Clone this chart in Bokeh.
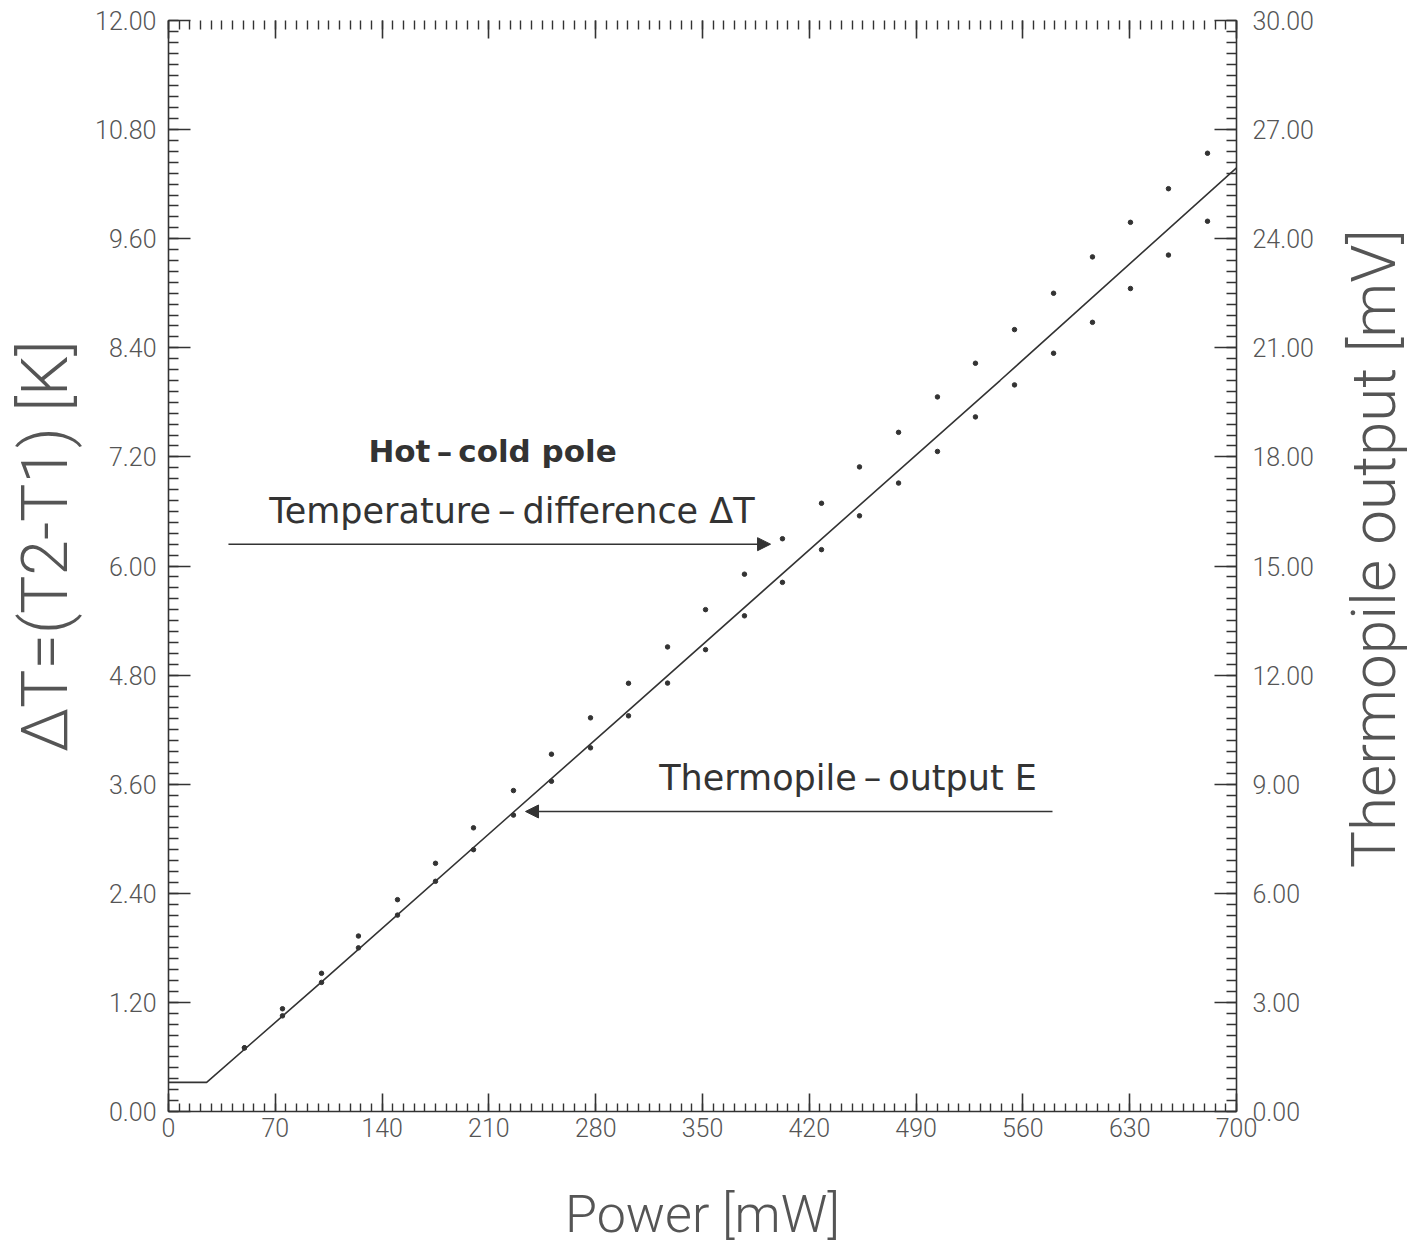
import math
from bokeh.plotting import figure
from bokeh.layouts import gridplot
from bokeh.core.properties import value
from bokeh.models import (Range1d, LinearAxis, SingleIntervalTicker, PrintfTickFormatter,
                          CustomJSTickFormatter, Label, Arrow, NormalHead)
from bokeh.embed import file_html
from bokeh.resources import INLINE

# ---- data ----
# Temperature difference dT [K] (upper dots, left axis)
power_dt = [49.8, 74.7, 100.3, 124.5, 150.1, 175.0, 199.9, 226.1, 251.0, 276.6, 301.5, 327.1,
            352.0, 377.5, 402.4, 428.0, 452.9, 478.5, 504.0, 528.9, 554.5, 580.1, 605.6, 630.5,
            655.4, 681.0]
delta_t = [0.70, 1.13, 1.52, 1.93, 2.33, 2.73, 3.12, 3.53, 3.93, 4.33, 4.71, 5.11,
           5.52, 5.91, 6.30, 6.69, 7.09, 7.47, 7.86, 8.23, 8.60, 9.00, 9.40, 9.78,
           10.15, 10.54]
# Thermopile output E [mV] (lower dots, right axis)
power_e = [49.8, 74.7, 100.3, 124.5, 150.1, 175.0, 199.9, 226.1, 251.0, 276.6, 301.5, 327.1,
           352.0, 377.5, 402.4, 428.0, 452.9, 478.5, 504.0, 528.9, 554.5, 580.1, 605.6, 630.5,
           655.4, 681.0]
thermo_e = [1.75, 2.63, 3.55, 4.50, 5.40, 6.33, 7.20, 8.15, 9.08, 10.00, 10.88, 11.78,
            12.70, 13.63, 14.55, 15.45, 16.38, 17.28, 18.15, 19.10, 19.98, 20.85, 21.70, 22.63,
            23.55, 24.48]
# fitted curve (left axis units)
line_power = [0, 25, 100, 296, 545, 700]
line_dt = [0.32, 0.32, 1.42, 4.33, 8.04, 10.38]

x_ticks_interval = 70
y_left_interval = 1.2
y_right_interval = 3.0

x_title = "Power [mW]"
y_left_title = "ΔT=(T2-T1) [K]"
y_right_title = "Thermopile output [mV]"

# annotation placement (data units)
title_pos = (212.4, 7.27)
dt_text_pos = (225.1, 6.60)
dt_arrow = (39.3, 394.6, 6.24)
e_text_pos = (445.4, 3.67)
e_arrow = (579.4, 234.0, 3.30)
# title placement inside the title strips (fractions of the strip frame)
left_title_xy = (0.53, 0.518)
right_title_xy = (0.5, 0.516)
bottom_title_xy = (0.5, 0.337)

INK = "#333333"
LABEL_INK = "#555555"
FONT = "Roboto Light, Roboto, sans-serif"
ANNOT_FONT = "DejaVu Sans"

MAIN_H = 1151
MAIN_W = 1241
p = figure(width=MAIN_W, height=MAIN_H, x_range=Range1d(0, 700), y_range=Range1d(0, 12),
           output_backend="svg", toolbar_location=None,
           x_axis_location=None, y_axis_location=None,
           min_border_left=83, min_border_right=90, min_border_top=20, min_border_bottom=40)
p.extra_y_ranges = {"mv": Range1d(0, 30)}
p.grid.visible = False
p.outline_line_color = None
p.background_fill_color = "white"
p.border_fill_color = "white"


def style(ax, major_len, minor_len):
    ax.axis_line_color = INK
    ax.axis_line_width = 1.6
    ax.major_tick_line_color = INK
    ax.minor_tick_line_color = INK
    ax.major_tick_line_width = 1.6
    ax.minor_tick_line_width = 1.4
    ax.major_tick_in = major_len
    ax.major_tick_out = 0
    ax.minor_tick_in = minor_len
    ax.minor_tick_out = 0
    ax.major_label_text_font = FONT
    ax.major_label_text_font_size = "25px"
    ax.major_label_text_color = LABEL_INK


left = LinearAxis(ticker=SingleIntervalTicker(interval=y_left_interval, num_minor_ticks=10),
                  formatter=PrintfTickFormatter(format="%.2f"))
style(left, 22, 10)
left.major_label_standoff = 12
p.add_layout(left, "left")

right = LinearAxis(y_range_name="mv",
                   ticker=SingleIntervalTicker(interval=y_right_interval, num_minor_ticks=10),
                   formatter=PrintfTickFormatter(format="%.2f"))
style(right, 22, 10)
right.major_label_standoff = 16
p.add_layout(right, "right")

bottom = LinearAxis(ticker=SingleIntervalTicker(interval=x_ticks_interval, num_minor_ticks=10))
style(bottom, 18, 8)
bottom.major_label_standoff = 6
p.add_layout(bottom, "below")

top = LinearAxis(ticker=SingleIntervalTicker(interval=x_ticks_interval, num_minor_ticks=10),
                 formatter=CustomJSTickFormatter(code="return ''"))
style(top, 18, 9)
top.major_label_standoff = 0
top.axis_line_alpha = 0
p.add_layout(top, "above")

p.line(line_power, line_dt, line_color=INK, line_width=1.6)
p.scatter(power_dt, delta_t, size=4.5, color=INK)
p.scatter(power_e, thermo_e, size=4.5, color=INK, y_range_name="mv")

p.add_layout(Label(x=title_pos[0], y=title_pos[1], text="Hot\u2009\u2013\u2009cold pole",
                   text_font=ANNOT_FONT, text_font_size="31px", text_font_style="bold",
                   text_color=INK, text_align="center", text_baseline="middle"))
p.add_layout(Label(x=dt_text_pos[0], y=dt_text_pos[1], text="Temperature\u2009\u2013\u2009difference ΔT",
                   text_font=ANNOT_FONT, text_font_size="35px",
                   text_color=INK, text_align="center", text_baseline="middle"))
p.add_layout(Label(x=e_text_pos[0], y=e_text_pos[1], text="Thermopile\u2009\u2013\u2009output E",
                   text_font=ANNOT_FONT, text_font_size="35px",
                   text_color=INK, text_align="center", text_baseline="middle"))

p.add_layout(Arrow(x_start=dt_arrow[0], x_end=dt_arrow[1], y_start=dt_arrow[2], y_end=dt_arrow[2],
                   line_color=INK, line_width=1.6,
                   end=NormalHead(size=13, fill_color=INK, line_color=INK)))
p.add_layout(Arrow(x_start=e_arrow[0], x_end=e_arrow[1], y_start=e_arrow[2], y_end=e_arrow[2],
                   line_color=INK, line_width=1.6,
                   end=NormalHead(size=13, fill_color=INK, line_color=INK)))


def strip(w, h):
    s = figure(width=w, height=h, x_range=Range1d(0, 1), y_range=Range1d(0, 1),
               output_backend="svg", toolbar_location=None,
               x_axis_location=None, y_axis_location=None, min_border=0)
    s.grid.visible = False
    s.outline_line_color = None
    s.background_fill_color = "white"
    s.border_fill_color = "white"
    return s


# axis titles, drawn in thin strips around the main plot
left_strip = strip(85, MAIN_H)
left_strip.text(x=[left_title_xy[0]], y=[left_title_xy[1]], text=[y_left_title], angle=math.pi / 2,
                text_font=value(FONT), text_font_size="64px", text_color=LABEL_INK,
                text_align="center", text_baseline="middle")

right_strip = strip(94, MAIN_H)
right_strip.text(x=[right_title_xy[0]], y=[right_title_xy[1]], text=[y_right_title], angle=math.pi / 2,
                 text_font=value(FONT), text_font_size="62px", text_color=LABEL_INK,
                 text_align="center", text_baseline="middle")

bottom_strip = strip(MAIN_W, 1246 - MAIN_H)
bottom_strip.text(x=[bottom_title_xy[0]], y=[bottom_title_xy[1]], text=[x_title],
                  text_font=value(FONT), text_font_size="52px", text_color=LABEL_INK,
                  text_align="center", text_baseline="middle")

layout = gridplot([[left_strip, p, right_strip], [None, bottom_strip, None]],
                  toolbar_location=None)
open("out.html", "w").write(file_html(layout, INLINE))
